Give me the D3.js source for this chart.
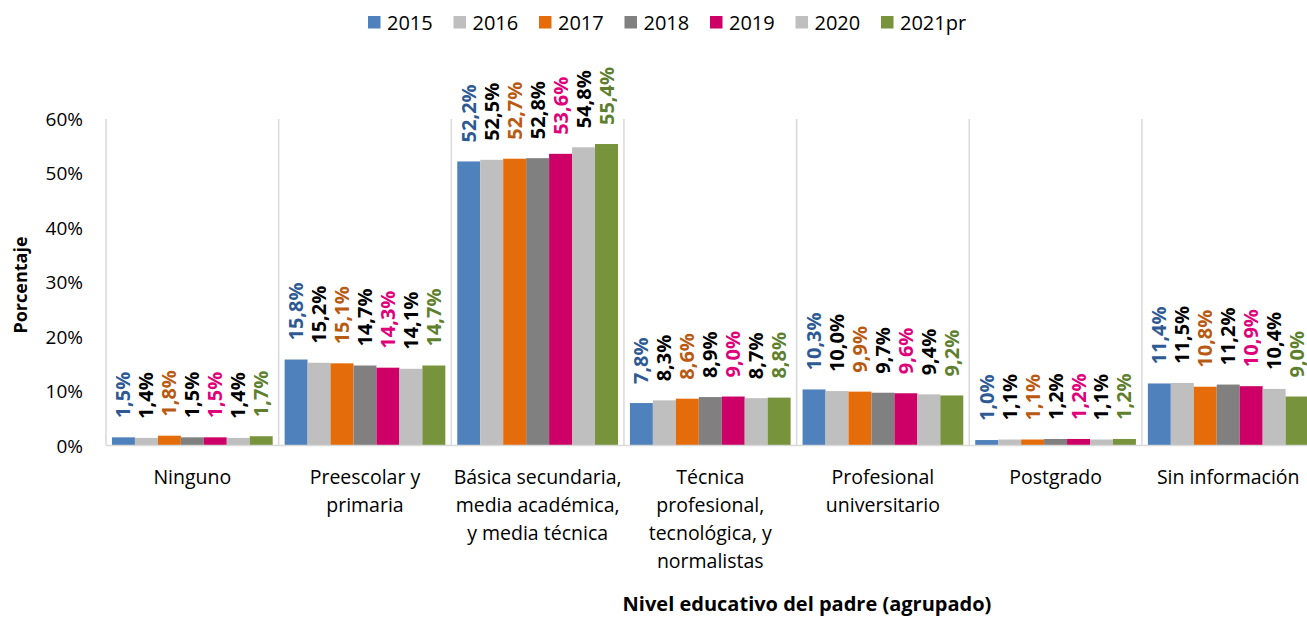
<!DOCTYPE html>
<html>
<head>
<meta charset="utf-8">
<script src="https://cdn.jsdelivr.net/npm/d3@7"></script>
<style>
  body { margin: 0; background: #fff; }
  text { font-family: "Open Sans", "Noto Sans", sans-serif; }
</style>
</head>
<body>
<svg id="chart" width="1307" height="617"></svg>
<script>
// data
const categories = ["Ninguno", "Preescolar y primaria", "Básica secundaria, media académica, y media técnica",
  "Técnica profesional, tecnológica, y normalistas", "Profesional universitario", "Postgrado", "Sin información"];
const categoryLines = [
  ["Ninguno"],
  ["Preescolar y", "primaria"],
  ["Básica secundaria,", "media académica,", "y media técnica"],
  ["Técnica", "profesional,", "tecnológica, y", "normalistas"],
  ["Profesional", "universitario"],
  ["Postgrado"],
  ["Sin información"]
];
const years = ["2015", "2016", "2017", "2018", "2019", "2020", "2021pr"];
const values = {
  "2015":   [1.5, 15.8, 52.2, 7.8, 10.3, 1.0, 11.4],
  "2016":   [1.4, 15.2, 52.5, 8.3, 10.0, 1.1, 11.5],
  "2017":   [1.8, 15.1, 52.7, 8.6, 9.9, 1.1, 10.8],
  "2018":   [1.5, 14.7, 52.8, 8.9, 9.7, 1.2, 11.2],
  "2019":   [1.5, 14.3, 53.6, 9.0, 9.6, 1.2, 10.9],
  "2020":   [1.4, 14.1, 54.8, 8.7, 9.4, 1.1, 10.4],
  "2021pr": [1.7, 14.7, 55.4, 8.8, 9.2, 1.2, 9.0]
};
const barColors = ["#4F81BD", "#BFBFBF", "#E46C0A", "#808080", "#CC0066", "#BFBFBF", "#77933C"];
const labelColors = ["#2E5A94", "#000000", "#B85A12", "#000000", "#E0007A", "#000000", "#5E7F2E"];
const yTicks = [0, 10, 20, 30, 40, 50, 60];

const svg = d3.select("#chart");
const W = 1307;
const plotLeft = 106, plotTop = 119, plotBottom = 445.5;
const catW = 172.65;

const x = d3.scaleBand().domain(categories).range([plotLeft, plotLeft + catW * categories.length]).padding(0);
const xIn = d3.scaleBand().domain(years).range([0, x.bandwidth()]).paddingInner(0).paddingOuter(0.26);
const y = d3.scaleLinear().domain([0, 60]).range([plotBottom, plotTop]);

// separators
svg.append("g").selectAll("line")
  .data(d3.range(categories.length + 1))
  .enter().append("line")
  .attr("x1", i => plotLeft + i * catW).attr("x2", i => plotLeft + i * catW)
  .attr("y1", plotTop).attr("y2", plotBottom)
  .attr("stroke", "#d9d9d9").attr("stroke-width", 1.5);

// bars
const groups = svg.append("g").selectAll("g")
  .data(categories)
  .enter().append("g")
  .attr("transform", d => `translate(${x(d)},0)`);

years.forEach((yr, j) => {
  groups.append("rect")
    .attr("x", xIn(yr))
    .attr("width", xIn.bandwidth())
    .attr("y", (d, i) => y(values[yr][i]))
    .attr("height", (d, i) => plotBottom - y(values[yr][i]))
    .attr("fill", barColors[j]);

  groups.append("text")
    .attr("transform", (d, i) => `translate(${xIn(yr) + xIn.bandwidth() / 2 + 7},${y(values[yr][i]) - 19}) rotate(-90)`)
    .attr("font-size", 20)
    .attr("font-weight", "bold")
    .attr("fill", labelColors[j])
    .text((d, i) => values[yr][i].toFixed(1).replace(".", ",") + "%");
});

// baseline
svg.append("line")
  .attr("x1", plotLeft).attr("x2", W)
  .attr("y1", plotBottom).attr("y2", plotBottom)
  .attr("stroke", "#d9d9d9").attr("stroke-width", 1.5);

// y axis labels
svg.append("g").selectAll("text")
  .data(yTicks)
  .enter().append("text")
  .attr("x", 83).attr("y", d => y(d) + 7)
  .attr("text-anchor", "end")
  .attr("font-size", 19)
  .attr("fill", "#000")
  .text(d => d + "%");

// category labels
categories.forEach((c, i) => {
  const t = svg.append("text")
    .attr("text-anchor", "middle")
    .attr("font-size", 19.5)
    .attr("fill", "#000");
  categoryLines[i].forEach((ln, k) => {
    t.append("tspan")
      .attr("x", x(c) + catW / 2)
      .attr("y", 484 + k * 28)
      .text(ln);
  });
  // keep the last label inside the picture
  const bb = t.node().getBBox();
  if (bb.x + bb.width > W - 6) {
    const shift = bb.x + bb.width - (W - 6);
    t.selectAll("tspan").attr("x", x(c) + catW / 2 - shift);
  }
});

// axis titles
svg.append("text")
  .attr("x", 807).attr("y", 611)
  .attr("text-anchor", "middle")
  .attr("font-size", 20).attr("font-weight", "bold")
  .text("Nivel educativo del padre (agrupado)");

svg.append("text")
  .attr("transform", "translate(27,285) rotate(-90)")
  .attr("text-anchor", "middle")
  .attr("font-size", 18).attr("font-weight", "bold")
  .text("Porcentaje");

// legend
const legend = svg.append("g").selectAll("g")
  .data(years)
  .enter().append("g")
  .attr("transform", (d, i) => `translate(${368 + i * 85.5},0)`);
legend.append("rect")
  .attr("x", 0).attr("y", 16).attr("width", 12.5).attr("height", 12.5)
  .attr("fill", (d, i) => barColors[i]);
legend.append("text")
  .attr("x", 19).attr("y", 30)
  .attr("font-size", 20)
  .attr("fill", "#000")
  .text(d => d);
</script>
</body>
</html>
